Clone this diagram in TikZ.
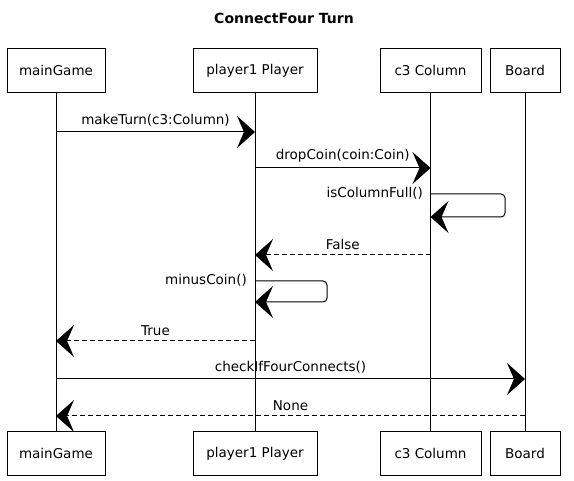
\documentclass[tikz,border=0pt]{standalone}
\usepackage{fontspec}
\setmainfont{DejaVu Sans}
\usetikzlibrary{arrows.meta}
\begin{document}
\begin{tikzpicture}[x=1pt,y=-1pt,
  obj/.style={draw, line width=0.8pt, minimum height=44pt, inner sep=0pt, font=\fontsize{13.5}{15}\selectfont},
  life/.style={draw, line width=0.6pt},
  bigtip/.style={-{Stealth[length=18pt,width=32pt,inset=7pt]}},
  msg/.style={draw, line width=1pt, bigtip},
  ret/.style={draw, line width=1pt, dash pattern=on 5pt off 3pt, bigtip},
  lbl/.style={font=\fontsize{13.5}{15}\selectfont, inner sep=1pt},
]
\useasboundingbox (0,0) rectangle (574,481);
\node[font=\bfseries\fontsize{14}{16}\selectfont] (title) at (284,18) {ConnectFour Turn};

% top boxes
\node[obj, minimum width=98pt]  (mgT) at (56,70.5)   {mainGame};
\node[obj, minimum width=124pt] (plT) at (255,70.5)  {player1 Player};
\node[obj, minimum width=101pt] (c3T) at (430.5,70.5) {c3 Column};
\node[obj, minimum width=70pt]  (bdT) at (525,70.5)  {Board};
% bottom boxes
\node[obj, minimum width=98pt]  (mgB) at (56,453.5)   {mainGame};
\node[obj, minimum width=124pt] (plB) at (255,453.5)  {player1 Player};
\node[obj, minimum width=101pt] (c3B) at (430.5,453.5) {c3 Column};
\node[obj, minimum width=70pt]  (bdB) at (525,453.5)  {Board};

% lifelines
\draw[life] (mgT) -- (mgB);
\draw[life] (plT) -- (plB);
\draw[life] (c3T) -- (c3B);
\draw[life] (bdT) -- (bdB);

% message points
\coordinate (m1a) at (56,132);   \coordinate (m1b) at (255,132);
\coordinate (m2a) at (255,168);  \coordinate (m2b) at (430.5,168);
\coordinate (m3a) at (430.5,194); \coordinate (m3b) at (430.5,217);
\coordinate (m4a) at (430.5,255); \coordinate (m4b) at (255,255);
\coordinate (m5a) at (255,281);  \coordinate (m5b) at (255,302);
\coordinate (m6a) at (255,341);  \coordinate (m6b) at (56,341);
\coordinate (m7a) at (56,379);   \coordinate (m7b) at (525,379);
\coordinate (m8a) at (525,416);  \coordinate (m8b) at (56,416);

\draw[msg] (m1a) -- node[above=4pt, lbl] {makeTurn(c3:Column)} (m1b);
\draw[msg] (m2a) -- node[above=4pt, lbl] {dropCoin(coin:Coin)} (m2b);
\draw[msg, rounded corners=4pt] (m3a) -- (505,194) -- (505,217) -- (m3b);
\node[lbl, anchor=east] (l3) at (424,193) {isColumnFull()};
\draw[ret] (m4a) -- node[above=4pt, lbl] {False} (m4b);
\draw[msg, rounded corners=4pt] (m5a) -- (327,281) -- (327,302) -- (m5b);
\node[lbl, anchor=east] (l5) at (248,280) {minusCoin()};
\draw[ret] (m6a) -- node[above=4pt, lbl] {True} (m6b);
\draw[msg] (m7a) -- node[above=4pt, lbl] {checkIfFourConnects()} (m7b);
\draw[ret] (m8a) -- node[above=4pt, lbl] {None} (m8b);
\end{tikzpicture}
\end{document}
